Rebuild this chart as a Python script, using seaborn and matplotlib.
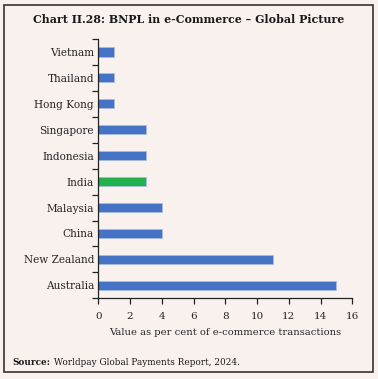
import pandas as pd
import matplotlib.pyplot as plt
import seaborn as sns
from matplotlib.patches import Rectangle

# Data
countries = ['Vietnam', 'Thailand', 'Hong Kong', 'Singapore', 'Indonesia',
             'India', 'Malaysia', 'China', 'New Zealand', 'Australia']
share = [1, 1, 1, 3, 3, 3, 4, 4, 11, 15]
x_ticks = [0, 2, 4, 6, 8, 10, 12, 14, 16]

bg = '#F9F1EE'
blue = '#4472C4'
green = '#22B14C'

df = pd.DataFrame({'country': countries, 'share': share})
colors = {c: (green if c == 'India' else blue) for c in countries}

sns.set_style('ticks')
plt.rcParams['font.family'] = ['DejaVu Serif']

fig = plt.figure(figsize=(3.78, 3.79), dpi=100, facecolor=bg)
ax = fig.add_axes([0.260, 0.213, 0.672, 0.684])
ax.set_facecolor(bg)

sns.barplot(ax=ax, data=df, x='share', y='country', hue='country',
            palette=colors, legend=False, width=0.35, saturation=1,
            edgecolor='#A9BCE0', linewidth=0.6, orient='h')

ax.set_xlim(0, 16)
ax.set_xticks(x_ticks)
ax.set_xticklabels([str(t) for t in x_ticks], fontsize=7.5)
ax.set_ylim(len(countries) - 0.5, -0.5)
ax.set_yticks(range(len(countries)))
ax.set_yticklabels(countries, fontsize=7.6)
ax.tick_params(axis='y', length=0, pad=3)
# ticks sit between the categories
ax.set_yticks([i - 0.5 for i in range(len(countries) + 1)], minor=True)
ax.tick_params(axis='y', which='minor', length=4, width=0.9, color='#222222')
ax.tick_params(axis='x', length=4, width=0.9, color='#222222', pad=6)
ax.set_xlabel('Value as per cent of e-commerce transactions', fontsize=7.2, labelpad=5)
ax.set_ylabel('')
sns.despine(ax=ax)
for s in ['left', 'bottom']:
    ax.spines[s].set_color('#222222')
    ax.spines[s].set_linewidth(0.9)

fig.text(0.5, 0.948, 'Chart II.28: BNPL in e-Commerce \u2013 Global Picture',
         ha='center', va='center', fontsize=7.9, fontweight='bold', color='#1a1a1a')
src = fig.text(0.034, 0.043, 'Source:', ha='left', va='center', fontsize=6.4,
               fontweight='bold', color='#1a1a1a')
ax.annotate(' Worldpay Global Payments Report, 2024.', xy=(1, 0.5), xycoords=src,
            ha='left', va='center', fontsize=6.4, color='#1a1a1a',
            annotation_clip=False)

# outer frame
fig.patches.append(Rectangle((0.011, 0.018), 0.975, 0.969, transform=fig.transFigure,
                             fill=False, edgecolor='#333333', linewidth=1.2))

fig.savefig('out.png', dpi=100, facecolor=bg)
